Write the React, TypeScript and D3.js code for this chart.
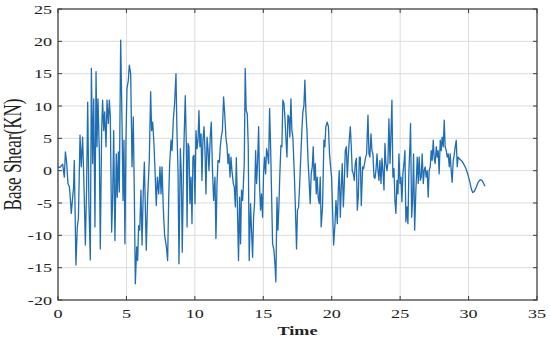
import React from "react";
import * as d3 from "d3";

const time = [
  0.0, 0.15, 0.34, 0.46, 0.54, 0.63, 0.73, 0.83, 0.9, 0.97, 1.05, 1.14, 1.19, 1.31, 1.41, 1.49, 1.61, 1.7, 1.8, 1.9,
  2.0, 2.09, 2.17, 2.26, 2.36, 2.44, 2.53, 2.61, 2.7, 2.78, 2.85, 2.92, 3.02, 3.09, 3.19, 3.26, 3.34, 3.41, 3.51, 3.58,
  3.68, 3.75, 3.82, 3.92, 3.99, 4.07, 4.16, 4.26, 4.33, 4.41, 4.48, 4.58, 4.68, 4.75, 4.82, 4.89, 4.97, 5.04, 5.14, 5.21,
  5.31, 5.41, 5.5, 5.58, 5.65, 5.75, 5.82, 5.89, 5.97, 6.06, 6.14, 6.23, 6.31, 6.45, 6.55, 6.67, 6.77, 6.84, 6.92, 7.01,
  7.09, 7.18, 7.26, 7.36, 7.45, 7.53, 7.6, 7.7, 7.79, 7.92, 8.01, 8.09, 8.16, 8.26, 8.33, 8.43, 8.52, 8.62, 8.69, 8.77,
  8.84, 8.94, 9.01, 9.08, 9.18, 9.25, 9.3, 9.38, 9.43, 9.5, 9.57, 9.64, 9.72, 9.79, 9.86, 9.94, 10.01, 10.08, 10.16, 10.23,
  10.3, 10.37, 10.45, 10.52, 10.59, 10.67, 10.74, 10.81, 10.89, 10.96, 11.03, 11.13, 11.2, 11.28, 11.37, 11.47, 11.54, 11.62, 11.69, 11.79,
  11.86, 11.93, 12.01, 12.1, 12.18, 12.27, 12.35, 12.42, 12.49, 12.57, 12.64, 12.71, 12.81, 12.88, 12.96, 13.03, 13.1, 13.19, 13.27, 13.34,
  13.41, 13.49, 13.54, 13.61, 13.68, 13.75, 13.83, 13.9, 13.97, 14.07, 14.14, 14.22, 14.29, 14.36, 14.44, 14.51, 14.58, 14.66, 14.73, 14.8,
  14.87, 14.95, 15.02, 15.09, 15.17, 15.24, 15.31, 15.39, 15.46, 15.53, 15.61, 15.68, 15.78, 15.85, 15.92, 16.0, 16.07, 16.14, 16.21, 16.29,
  16.36, 16.43, 16.51, 16.58, 16.65, 16.73, 16.8, 16.87, 16.94, 17.02, 17.09, 17.16, 17.26, 17.33, 17.43, 17.5, 17.58, 17.65, 17.72, 17.82,
  17.89, 17.97, 18.04, 18.11, 18.19, 18.28, 18.36, 18.43, 18.5, 18.58, 18.65, 18.72, 18.8, 18.87, 18.94, 19.01, 19.09, 19.16, 19.23, 19.33,
  19.43, 19.5, 19.57, 19.67, 19.76, 19.84, 19.92, 19.99, 20.07, 20.14, 20.24, 20.31, 20.41, 20.48, 20.55, 20.63, 20.7, 20.77, 20.85, 20.92,
  20.99, 21.07, 21.14, 21.21, 21.28, 21.36, 21.43, 21.5, 21.58, 21.65, 21.72, 21.8, 21.87, 21.94, 22.02, 22.09, 22.16, 22.26, 22.33, 22.4,
  22.48, 22.55, 22.65, 22.72, 22.79, 22.87, 22.94, 23.01, 23.09, 23.16, 23.23, 23.31, 23.38, 23.45, 23.52, 23.6, 23.67, 23.74, 23.82, 23.89,
  23.96, 24.04, 24.11, 24.18, 24.26, 24.33, 24.4, 24.47, 24.55, 24.62, 24.69, 24.77, 24.84, 24.91, 24.99, 25.06, 25.13, 25.2, 25.28, 25.35,
  25.42, 25.5, 25.57, 25.64, 25.72, 25.76, 25.84, 25.91, 25.98, 26.06, 26.15, 26.25, 26.32, 26.39, 26.47, 26.54, 26.61, 26.69, 26.76, 26.83,
  26.9, 26.98, 27.05, 27.12, 27.2, 27.27, 27.34, 27.42, 27.49, 27.56, 27.64, 27.71, 27.78, 27.85, 27.93, 28.0, 28.07, 28.15, 28.22, 28.29,
  28.37, 28.44, 28.51, 28.59, 28.66, 28.73, 28.8, 28.88, 28.95, 29.02, 29.1, 29.17, 29.24, 29.35, 29.5, 29.65, 29.8, 29.95, 30.1, 30.2,
  30.3, 30.42, 30.55, 30.7, 30.85, 30.98, 31.08, 31.2,
];

const shear = [
  0.6, 0.5, 1.0, -1.0, 2.9, 1.3, -2.0, -2.5, -4.3, -6.6, -4.6, -2.5, 1.6, -14.6, -8.7, -7.4, 5.5, 0.6, 5.2, -2.5,
  -11.5, -2.5, 10.6, -5.1, -13.8, 15.8, 1.1, 11.1, -8.7, 15.3, 3.7, 11.1, 3.1, -12.1, 6.2, 10.9, 6.2, 9.1, 3.7, 10.9,
  7.3, 10.9, 8.6, -9.5, -4.6, 6.2, -10.8, 2.6, -4.1, 2.9, -3.3, 20.2, 7.3, -4.6, 4.7, -11.3, 5.2, 12.7, 14.0, 16.3,
  15.0, 0.6, 8.3, -4.1, -17.5, -11.8, -13.9, -8.5, -9.2, -3.0, -11.5, -3.3, 1.3, -12.3, -4.1, 1.6, 12.2, 6.2, 7.5, 4.2,
  0.0, -5.4, -1.0, -3.6, 0.6, -3.6, 0.6, -6.1, -10.0, -11.8, -13.9, -4.1, 1.1, 4.7, 3.1, 8.0, 10.4, 15.0, 6.2, 0.0,
  -14.4, 3.4, -0.5, -12.6, 2.1, 7.8, 11.6, 3.7, -8.7, 4.2, 3.7, -5.1, -1.0, -8.2, 2.1, 2.4, -5.1, 6.2, 3.4, 4.7,
  9.3, 3.7, 5.7, -1.5, 4.7, 6.8, 3.1, -3.6, 5.2, 3.4, 0.0, 5.5, 7.5, 0.6, -4.6, -1.0, -10.5, -2.0, 1.6, 1.3,
  3.7, 5.2, 6.2, 11.4, 8.8, 5.2, 3.7, 1.1, 2.6, -1.0, 2.1, 0.0, -2.0, -2.5, -5.6, 2.0, -4.6, -13.9, -4.1, -11.3,
  -3.0, -4.6, -2.5, 1.1, 15.8, 9.3, 8.8, 3.9, -13.9, -5.1, -9.2, -13.4, -7.2, -5.1, 3.1, -2.0, 1.1, 6.8, -2.5, -6.1,
  -3.6, -7.2, -0.5, 2.1, -0.5, 3.4, 2.6, 1.1, 9.6, 4.2, -4.1, -11.3, -12.3, -14.4, -17.2, -4.1, -9.2, -5.6, -0.5, 3.9,
  3.7, 10.9, 10.4, 8.3, 5.2, 2.1, 8.6, 8.3, 5.2, 11.1, 6.2, 5.2, 0.0, -4.6, -12.1, -6.1, -5.6, -2.5, 1.1, 6.2,
  9.0, 10.1, 14.0, 9.3, 6.2, 1.1, -2.0, -5.1, -0.5, 0.6, 3.7, -1.5, 1.1, -3.6, -1.0, -4.1, -5.1, -1.0, -8.7, -5.6,
  4.7, 3.7, 6.8, 7.5, 6.8, 2.6, 0.6, -1.0, -6.6, -11.5, -8.2, -4.6, -8.2, -3.0, 0.0, -7.2, -2.5, 1.1, -5.6, -2.0,
  3.1, 3.7, -1.0, 2.1, 4.7, 6.8, 3.7, 0.0, -0.5, -1.5, 1.1, 1.9, -6.1, -4.1, 2.1, 2.1, -5.4, 0.6, 0.3, 1.1,
  2.1, 2.6, 8.6, 2.6, 2.1, 5.7, 3.1, 2.6, -1.0, -1.2, 0.0, 2.6, 0.0, -1.5, 1.6, -2.0, 1.9, 0.0, -3.0, 4.2,
  1.1, 0.0, 1.3, 8.0, 1.1, 5.7, 10.9, -1.0, 0.3, -4.6, -6.6, -1.5, -3.6, 2.6, -2.0, -1.0, -4.8, -0.5, 1.1, 3.1,
  -7.9, -5.6, -8.2, 0.0, 4.2, 7.3, -7.2, -4.6, 2.6, -9.2, -3.0, 2.1, -2.0, 2.1, -1.5, -1.0, 2.6, -2.0, 0.0, 0.6,
  -1.0, 0.0, -4.1, 0.0, 0.6, 3.1, 1.6, 4.7, 1.9, 1.1, 3.7, 2.1, 3.1, -0.5, 4.7, 3.1, 5.2, 3.7, 7.8, 3.7,
  3.1, 2.1, 2.6, 0.6, 2.6, 0.0, -1.8, 1.6, 2.4, 3.7, 4.7, 0.6, 2.1, 1.8, 1.5, 1.0, 0.4, -0.6, -1.8, -2.8,
  -3.4, -3.2, -2.6, -1.8, -1.4, -1.5, -1.9, -2.4,
];

const xTicks = [0, 5, 10, 15, 20, 25, 30, 35];
const yTicks = [-20, -15, -10, -5, 0, 5, 10, 15, 20, 25];
const xLabel = "Time";
const yLabel = "Base Shear(KN)";

const W = 550;
const H = 343;
const L = 58;
const R = 537;
const T = 9;
const B = 300;
const SX = 1.45;
const FONT = "'Liberation Serif', 'Times New Roman', serif";

export default function App() {
  const x = d3.scaleLinear().domain([0, 35]).range([L, R]);
  const y = d3.scaleLinear().domain([-20, 25]).range([B, T]);
  const pts: [number, number][] = time.map((t, i) => [t, shear[i]]);
  const line = d3
    .line<[number, number]>()
    .x((d) => x(d[0]))
    .y((d) => y(d[1]));
  const axisColor = "#3c3c3c";
  const gridColor = "#dcdcdc";
  const tick = 4;

  return (
    <svg
      width={W}
      height={H}
      style={{ position: "absolute", left: 0, top: 0, background: "#fff" }}
    >
      <rect x={0} y={0} width={W} height={H} fill="#fff" />
      {xTicks.map((t) => (
        <line key={"gx" + t} x1={x(t)} x2={x(t)} y1={T} y2={B} stroke={gridColor} strokeWidth={1} />
      ))}
      {yTicks.map((t) => (
        <line key={"gy" + t} x1={L} x2={R} y1={y(t)} y2={y(t)} stroke={gridColor} strokeWidth={1} />
      ))}
      <path d={line(pts) || ""} fill="none" stroke="#1f6db3" strokeWidth={1.3} strokeLinejoin="round" />
      <rect x={L} y={T} width={R - L} height={B - T} fill="none" stroke={axisColor} strokeWidth={1.2} />
      {xTicks.map((t) => (
        <g key={"tx" + t}>
          <line x1={x(t)} x2={x(t)} y1={B} y2={B - tick} stroke={axisColor} />
          <line x1={x(t)} x2={x(t)} y1={T} y2={T + tick} stroke={axisColor} />
          <text
            transform={`translate(${x(t)},${B + 18}) scale(${SX},1)`}
            textAnchor="middle"
            fontFamily={FONT}
            fontSize={12.5}
            fill="#222"
          >
            {t}
          </text>
        </g>
      ))}
      {yTicks.map((t) => (
        <g key={"ty" + t}>
          <line x1={L} x2={L + tick} y1={y(t)} y2={y(t)} stroke={axisColor} />
          <line x1={R} x2={R - tick} y1={y(t)} y2={y(t)} stroke={axisColor} />
          <text
            transform={`translate(${L - 6},${y(t) + 4.5}) scale(${SX},1)`}
            textAnchor="end"
            fontFamily={FONT}
            fontSize={12.5}
            fill="#222"
          >
            {t}
          </text>
        </g>
      ))}
      <text
        transform={`translate(${(L + R) / 2},${B + 35}) scale(${SX},1)`}
        textAnchor="middle"
        fontFamily={FONT}
        fontSize={12.5}
        fontWeight="bold"
        fill="#222"
      >
        {xLabel}
      </text>
      <text
        transform={`translate(21,${(T + B) / 2}) scale(${SX},1) rotate(-90)`}
        textAnchor="middle"
        fontFamily={FONT}
        fontSize={17}
        fill="#222"
      >
        {yLabel}
      </text>
    </svg>
  );
}
